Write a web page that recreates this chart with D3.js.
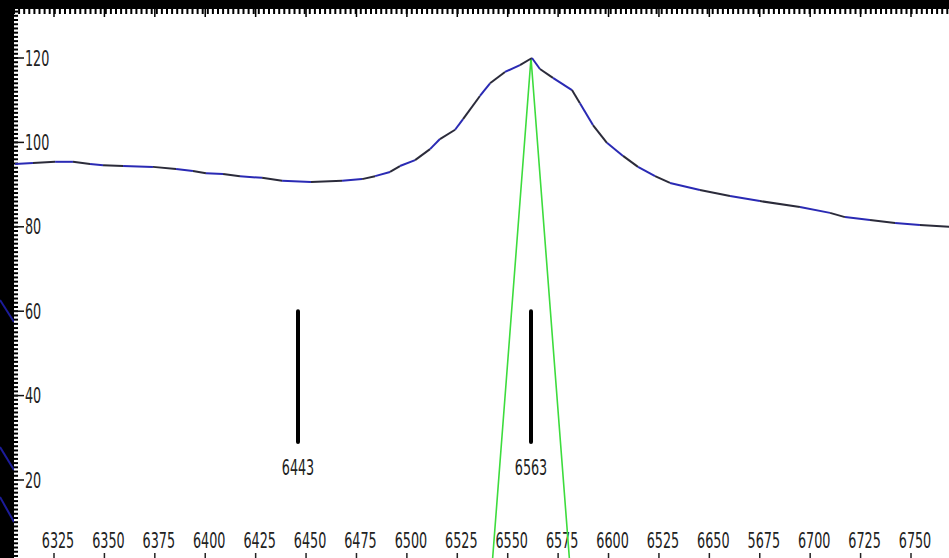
<!DOCTYPE html>
<html>
<head>
<meta charset="utf-8">
<script src="https://cdn.jsdelivr.net/npm/d3@7"></script>
<style>
  html, body { margin: 0; padding: 0; background: #000; }
  svg { display: block; }
  text { font-family: "DejaVu Sans Condensed", "Liberation Sans Narrow", "Liberation Sans", sans-serif; }
</style>
</head>
<body>
<svg id="chart" width="949" height="558"></svg>
<script>
// ---- data ----
const wavelengths = [6297.3, 6306.5, 6317.9, 6327.1, 6335.9, 6342.6, 6352.9, 6368.3, 6380.2, 6388.9,
  6395.6, 6404.4, 6413.1, 6424.5, 6434.8, 6449.7, 6465.7, 6476.0, 6482.7, 6490.4,
  6495.5, 6503.3, 6511.0, 6516.1, 6523.9, 6528.0, 6536.7, 6541.9, 6549.6, 6557.3,
  6563.5, 6567.6, 6574.3, 6584.1, 6588.2, 6594.9, 6602.1, 6610.4, 6618.1, 6626.9,
  6634.6, 6650.0, 6665.5, 6680.9, 6701.5, 6717.0, 6724.7, 6737.6, 6750.5, 6763.3, 6778.3];
const flux = [94.9, 95.1, 95.4, 95.4, 94.9, 94.6, 94.4, 94.2, 93.7, 93.2,
  92.7, 92.5, 92.0, 91.6, 90.9, 90.6, 90.9, 91.3, 92.0, 93.0,
  94.4, 95.8, 98.4, 100.8, 103.0, 105.5, 111.0, 114.0, 116.7, 118.3,
  120.0, 117.4, 115.3, 112.4, 109.3, 104.1, 99.9, 96.8, 94.2, 92.0,
  90.4, 88.7, 87.3, 86.1, 84.7, 83.3, 82.3, 81.6, 80.9, 80.4, 80.0];

const lineWaves = [6443, 6563];
const lineLabels = ["6443", "6563"];
const lineTop = 60;
const lineBottom = 29;

const gaussWave = [6543, 6563, 6583];
const gaussFlux = [0, 120, 0];

const xTickLabels = ["6325", "6350", "6375", "6400", "6425", "6450", "6475", "6500", "6525",
  "6550", "6575", "6600", "6525", "6650", "5675", "6700", "6725", "6750"];
const yTicks = [20, 40, 60, 80, 100, 120];

// ---- layout ----
const W = 949, H = 558;
const svg = d3.select("#chart");

const x = d3.scaleLinear().domain([6443, 6563]).range([298, 531]);
const y = d3.scaleLinear().domain([0, 120]).range([564.4, 58]);
const xLab = d3.scaleLinear().domain([0, xTickLabels.length - 1]).range([58, 915]);

const SX = 0.86, SY = 1.28;
function stretched(sel, fx, fy) {
  sel.attr("x", 0).attr("y", 0).attr("dy", "0.36em")
    .attr("transform", (d, i) => `translate(${fx(d, i)},${fy(d, i)}) scale(${SX},${SY})`)
    .attr("font-size", 16.5).attr("fill", "#222");
  return sel;
}

// background frame
svg.append("rect").attr("x", 0).attr("y", 0).attr("width", W).attr("height", H).attr("fill", "#000");
// decorative blue diagonals on left border
const diag = [[0, 300, 14, 322], [0, 447, 14, 470], [0, 497, 14, 522]];
svg.selectAll("line.diag").data(diag).join("line")
  .attr("x1", d => d[0]).attr("y1", d => d[1]).attr("x2", d => d[2]).attr("y2", d => d[3])
  .attr("stroke", "#1c1c9a").attr("stroke-width", 2);

svg.append("rect").attr("x", 14).attr("y", 9).attr("width", W - 14).attr("height", H - 9).attr("fill", "#fff");

// top ruler
const topTicks = d3.range(14, W, 5.1);
svg.selectAll("line.tt").data(topTicks).join("line")
  .attr("x1", d => d).attr("x2", d => d).attr("y1", 9).attr("y2", 14)
  .attr("stroke", "#000").attr("stroke-width", 2);
svg.selectAll("line.ttm").data(d3.range(xTickLabels.length)).join("line")
  .attr("x1", i => xLab(i) - 4).attr("x2", i => xLab(i) - 4).attr("y1", 9).attr("y2", 17)
  .attr("stroke", "#000").attr("stroke-width", 1.5);

// left ruler (one tick per unit)
const leftTicks = d3.range(-2, 135, 1);
svg.selectAll("line.lt").data(leftTicks).join("line")
  .attr("x1", 14).attr("x2", 18).attr("y1", d => y(d)).attr("y2", d => y(d))
  .attr("stroke", "#000").attr("stroke-width", 2);

// y axis ticks + labels
const yg = svg.append("g");
yg.selectAll("line").data(yTicks).join("line")
  .attr("x1", 14).attr("x2", 24).attr("y1", d => y(d)).attr("y2", d => y(d))
  .attr("stroke", "#111").attr("stroke-width", 1.5);
stretched(yg.selectAll("text").data(yTicks).join("text"), () => 25, d => y(d))
  .text(d => d);

// x tick labels (bottom)
const xg = svg.append("g");
stretched(xg.selectAll("text").data(xTickLabels).join("text"), (d, i) => xLab(i), () => 540)
  .attr("text-anchor", "middle")
  .text(d => d);
xg.selectAll("line").data(xTickLabels).join("line")
  .attr("x1", (d, i) => xLab(i) - 4).attr("x2", (d, i) => xLab(i) - 4)
  .attr("y1", 553).attr("y2", 558)
  .attr("stroke", "#222").attr("stroke-width", 1.5);

// green synthetic line profile
const gaussLine = d3.line().x((d, i) => x(gaussWave[i])).y((d, i) => y(gaussFlux[i]));
svg.append("path").datum(gaussWave).attr("d", gaussLine)
  .attr("fill", "none").attr("stroke", "#3ddc3d").attr("stroke-width", 1.6);

// spectrum curve: segments alternating blue / dark
const segs = d3.range(wavelengths.length - 1);
svg.selectAll("line.spec").data(segs).join("line")
  .attr("x1", i => x(wavelengths[i])).attr("y1", i => y(flux[i]))
  .attr("x2", i => x(wavelengths[i + 1])).attr("y2", i => y(flux[i + 1]))
  .attr("stroke", i => i % 2 === 0 ? "#2a2ab4" : "#2b2b3a")
  .attr("stroke-width", 2);

// identification markers
svg.selectAll("line.mk").data(lineWaves).join("line")
  .attr("x1", d => x(d)).attr("x2", d => x(d))
  .attr("y1", y(lineTop)).attr("y2", y(lineBottom))
  .attr("stroke", "#000").attr("stroke-width", 4).attr("stroke-linecap", "round");
stretched(svg.selectAll("text.mk").data(lineWaves).join("text"), d => x(d), () => 467)
  .attr("text-anchor", "middle")
  .text((d, i) => lineLabels[i]);
</script>
</body>
</html>
